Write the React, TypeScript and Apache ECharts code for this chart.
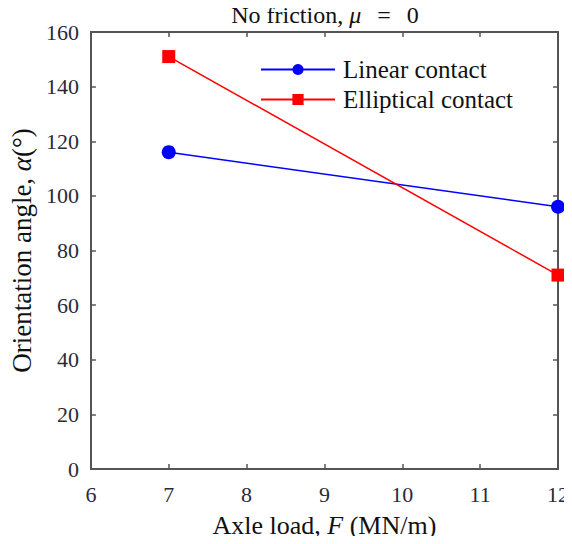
import React, { useEffect, useRef } from "react";
import * as echarts from "echarts";

const xLoads = [7, 12];
const linearContact = [116, 96];
const ellipticalContact = [151, 71];
const seriesNames = ["Linear contact", "Elliptical contact"];

const FONT = "Liberation Serif";
const AXIS_COLOR = "#555555";
const LABEL_COLOR = "#2a2a3a";

export default function App() {
  const ref = useRef<HTMLDivElement>(null);
  useEffect(() => {
    if (!ref.current) return;
    const chart = echarts.init(ref.current, null, { renderer: "svg" });
    const axisCommon = {
      type: "value" as const,
      axisLine: { show: true, onZero: false, lineStyle: { color: AXIS_COLOR, width: 2 } },
      axisTick: { show: true, inside: true, length: 5, lineStyle: { color: AXIS_COLOR, width: 1.5 } },
      splitLine: { show: false },
    };
    const rich = (size: number) => ({
      rm: { fontFamily: FONT, fontSize: size, lineHeight: size + 2, color: "#111", fontWeight: "normal", fontStyle: "normal" },
      it: { fontFamily: FONT, fontSize: size, lineHeight: size + 2, color: "#111", fontStyle: "italic", fontWeight: "normal" },
      eq: { fontFamily: FONT, fontSize: size, lineHeight: size + 2, color: "#111", fontWeight: "normal", fontStyle: "normal", padding: [0, 16, 0, 16] },
    });
    chart.setOption({
      animation: false,
      backgroundColor: "#ffffff",
      textStyle: { fontFamily: FONT },
      title: {
        text: "{rm|No friction, }{it|μ}{eq|=}{rm|0}",
        left: 325,
        textAlign: "center",
        top: 2,
        padding: 0,
        textStyle: {
          fontFamily: FONT,
          fontSize: 24,
          lineHeight: 26,
          fontWeight: "normal",
          color: "#111",
          rich: rich(24),
        },
      },
      legend: {
        orient: "vertical",
        left: 260,
        top: 57,
        padding: 0,
        itemWidth: 74,
        itemHeight: 14,
        itemGap: 5,
        data: seriesNames,
        textStyle: { fontFamily: FONT, fontSize: 25, lineHeight: 25, color: "#111", padding: [0, 0, 0, 3] },
      },
      grid: { left: 83, right: 4, top: 32, bottom: 75, containLabel: false },
      xAxis: [
        {
          ...axisCommon,
          min: 6,
          max: 12,
          interval: 1,
          position: "bottom",
          axisLabel: { color: LABEL_COLOR, fontSize: 22, fontFamily: FONT, margin: 14 },
          name: "{rm|Axle load, }{it|F}{rm| (MN/m)}",
          nameLocation: "middle",
          nameGap: 42,
          nameTextStyle: { fontFamily: FONT, fontSize: 26, color: "#111", rich: rich(26) },
        },
        {
          ...axisCommon,
          min: 6,
          max: 12,
          interval: 1,
          position: "top",
          axisLabel: { show: false },
        },
      ],
      yAxis: [
        {
          ...axisCommon,
          min: 0,
          max: 160,
          interval: 20,
          position: "left",
          axisLabel: { color: LABEL_COLOR, fontSize: 22, fontFamily: FONT, margin: 12 },
          name: "{rm|Orientation angle, }{it|α}{rm|(°)}",
          nameLocation: "middle",
          nameGap: 53,
          nameTextStyle: { fontFamily: FONT, fontSize: 27, color: "#111", rich: rich(27) },
        },
        {
          ...axisCommon,
          min: 0,
          max: 160,
          interval: 20,
          position: "right",
          axisLabel: { show: false },
        },
      ],
      series: [
        {
          name: seriesNames[0],
          type: "line",
          data: xLoads.map((x, i) => [x, linearContact[i]]),
          symbol: "circle",
          symbolSize: 14,
          itemStyle: { color: "#0000ff" },
          lineStyle: { color: "#0000ff", width: 1.5 },
        },
        {
          name: seriesNames[1],
          type: "line",
          data: xLoads.map((x, i) => [x, ellipticalContact[i]]),
          symbol: "rect",
          symbolSize: 13,
          itemStyle: { color: "#ff0000" },
          lineStyle: { color: "#ff0000", width: 1.5 },
        },
      ],
    });
    return () => chart.dispose();
  }, []);
  return <div ref={ref} style={{ width: 572, height: 544, margin: -8 }} />;
}
